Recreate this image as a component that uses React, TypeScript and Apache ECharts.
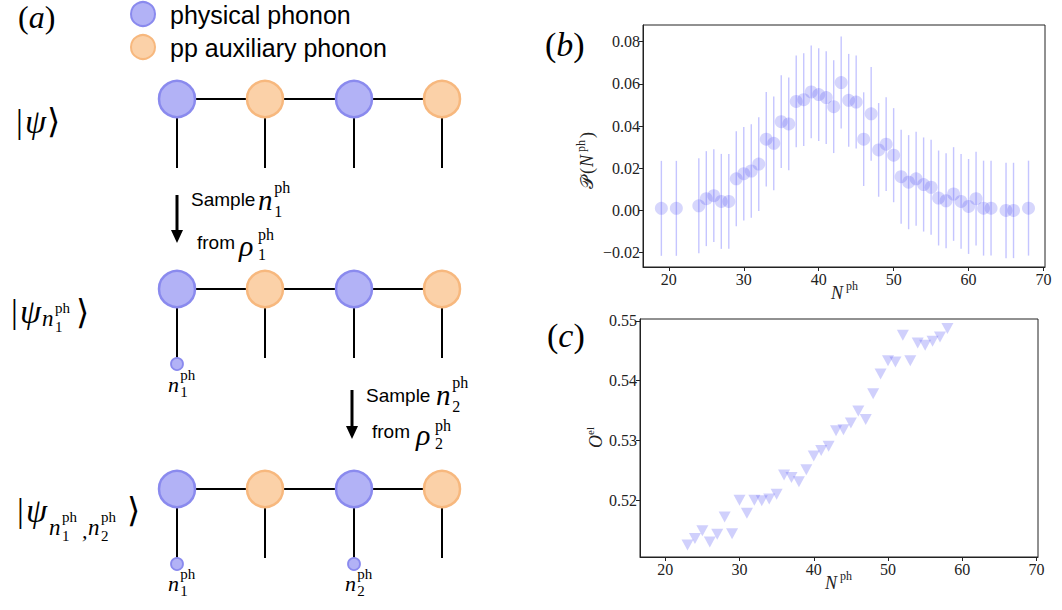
import React, { useEffect, useRef } from "react";
import * as echarts from "echarts";

// Panel (b): photon-number distribution with error bars
const nphB = [19, 21, 24, 25, 26, 27, 28, 29, 30, 31, 32, 33, 34, 35, 36, 37, 38, 39, 40, 41, 42, 43, 44, 45, 46, 47, 48, 49, 50, 51, 52, 53, 54, 55, 56, 57, 58, 59, 60, 61, 62, 63, 65, 66, 68];
const probB = [0.001, 0.001, 0.0022, 0.0056, 0.007, 0.0043, 0.0043, 0.015, 0.0174, 0.0187, 0.022, 0.0338, 0.0318, 0.0421, 0.041, 0.0517, 0.0525, 0.0562, 0.0549, 0.0535, 0.0492, 0.0606, 0.0522, 0.0514, 0.0338, 0.0458, 0.0287, 0.0314, 0.0262, 0.016, 0.0134, 0.015, 0.0123, 0.011, 0.0059, 0.0046, 0.0078, 0.0043, 0.0019, 0.0056, 0.0011, 0.0011, 0.0, 0.0, 0.0011];
const errB = [0.0225, 0.0225, 0.0225, 0.0225, 0.022, 0.0225, 0.0225, 0.0225, 0.0222, 0.0222, 0.0222, 0.0224, 0.0222, 0.022, 0.022, 0.0218, 0.022, 0.022, 0.022, 0.022, 0.022, 0.0218, 0.022, 0.022, 0.0222, 0.0222, 0.0222, 0.0222, 0.0223, 0.0223, 0.0223, 0.0223, 0.0223, 0.0225, 0.0225, 0.0225, 0.0222, 0.0225, 0.0225, 0.0222, 0.0225, 0.0225, 0.0226, 0.0226, 0.0225];

// Panel (c): electronic observable vs phonon number
const nphC = [23, 24, 25, 26, 27, 28, 29, 30, 31, 32, 33, 34, 35, 36, 37, 38, 39, 40, 41, 42, 43, 44, 45, 46, 47, 48, 49, 50, 51, 52, 53, 54, 55, 56, 57, 58];
const oelC = [0.5125, 0.5136, 0.5149, 0.513, 0.5143, 0.5172, 0.5144, 0.52, 0.5178, 0.52, 0.5199, 0.5202, 0.521, 0.5242, 0.5238, 0.5231, 0.5251, 0.5274, 0.5283, 0.529, 0.5316, 0.5318, 0.5329, 0.5349, 0.5335, 0.5378, 0.5411, 0.5433, 0.5431, 0.5476, 0.5433, 0.5463, 0.5459, 0.5466, 0.5473, 0.5487];

const xTicks = [20, 30, 40, 50, 60, 70];
const yTicksB = [-0.02, 0, 0.02, 0.04, 0.06, 0.08];
const yTicksC = [0.52, 0.53, 0.54, 0.55];

const SERIF = "Liberation Serif, DejaVu Serif, serif";
const SANS = "Liberation Sans, Arial, sans-serif";
const INK = "#222";

const BLUE_FILL = "#b2b2f6";
const BLUE_EDGE = "#8a8aee";
const ORANGE_FILL = "#fbd1a8";
const ORANGE_EDGE = "#f7b87e";

type TOpts = { italic?: boolean; font?: string; align?: string; fill?: string };
// single-token rich text keeps the font family on every run
function txt(text: string, x: number, y: number, size: number, o: TOpts = {}) {
  return {
    type: "text",
    x,
    y,
    silent: true,
    style: {
      text: `{t|${text}}`,
      align: o.align ?? "left",
      verticalAlign: "middle",
      rich: {
        t: {
          fontSize: size,
          fontFamily: o.font ?? SERIF,
          fontStyle: o.italic ? "italic" : "normal",
          fill: o.fill ?? "#000",
        },
      },
    },
  };
}

function seg(x1: number, y1: number, x2: number, y2: number, w = 2) {
  return { type: "line", silent: true, shape: { x1, y1, x2, y2 }, style: { stroke: "#000", lineWidth: w } };
}

function dot(cx: number, cy: number, r: number, fill: string, stroke: string, w = 2.5) {
  return { type: "circle", silent: true, shape: { cx, cy, r }, style: { fill, stroke, lineWidth: w } };
}

function arrow(x: number, y0: number, y1: number) {
  return [
    seg(x, y0, x, y1 - 10, 3),
    { type: "polygon", silent: true, shape: { points: [[x - 6, y1 - 13], [x + 6, y1 - 13], [x, y1]] }, style: { fill: "#000" } },
  ];
}

// n_k^ph label: italic n with stacked superscript "ph" and subscript k
function nLabel(x: number, y: number, k: string, size = 22, s = Math.round(size * 0.66)) {
  return [
    txt("n", x, y, size, { italic: true }),
    txt("ph", x + size * 0.56, y - size * 0.42, s),
    txt(k, x + size * 0.56, y + size * 0.38, s),
  ];
}

function buildDiagram() {
  const els: any[] = [];
  const cols = [177, 265, 354, 442];
  const kinds = [0, 1, 0, 1];
  const rows = [99, 289, 489];
  const legEnd = [168, 358, 558];

  // panel label and legend
  els.push({
    type: "text", x: 18, y: 17, silent: true,
    style: {
      text: "{u|(}{i|a}{u|)}", verticalAlign: "middle",
      rich: {
        u: { fontFamily: SERIF, fontSize: 32, fill: "#000" },
        i: { fontFamily: SERIF, fontSize: 32, fontStyle: "italic", fill: "#000" },
      },
    },
  });
  els.push(dot(143, 14, 12, BLUE_FILL, BLUE_EDGE, 2));
  els.push(dot(143, 47, 12, ORANGE_FILL, ORANGE_EDGE, 2));
  els.push(txt("physical phonon", 170, 15, 25, { font: SANS }));
  els.push(txt("pp auxiliary phonon", 170, 48, 25, { font: SANS }));

  // three tensor-network rows
  rows.forEach((y, r) => {
    els.push(seg(cols[0], y, cols[3], y, 2));
    cols.forEach((x) => els.push(seg(x, y, x, legEnd[r], 2)));
    cols.forEach((x, i) =>
      els.push(kinds[i] === 0 ? dot(x, y, 18, BLUE_FILL, BLUE_EDGE) : dot(x, y, 18, ORANGE_FILL, ORANGE_EDGE))
    );
  });

  // sampled physical legs
  els.push(dot(177, 364, 6, BLUE_FILL, BLUE_EDGE, 1.8));
  els.push(dot(177, 564, 6, BLUE_FILL, BLUE_EDGE, 1.8));
  els.push(dot(354, 564, 6, BLUE_FILL, BLUE_EDGE, 1.8));
  els.push(...nLabel(168, 384, "1"));
  els.push(...nLabel(168, 583, "1"));
  els.push(...nLabel(345, 583, "2"));

  // state labels on the left
  els.push(txt("|", 16, 121, 34));
  els.push(txt("ψ", 25, 121, 34, { italic: true }));
  els.push(txt("⟩", 47, 121, 34));

  els.push(txt("|", 11, 311, 34));
  els.push(txt("ψ", 20, 311, 34, { italic: true }));
  els.push(...nLabel(42, 318, "1", 23));
  els.push(txt("⟩", 76, 312, 34));

  els.push(txt("|", 17, 510, 34));
  els.push(txt("ψ", 26, 510, 34, { italic: true }));
  els.push(...nLabel(49, 527, "1", 23));
  els.push(txt(",", 82, 530, 22, { italic: true }));
  els.push(...nLabel(88, 527, "2", 23));
  els.push(txt("⟩", 127, 510, 34));

  // sampling steps
  els.push(...arrow(177, 195, 243));
  els.push(txt("Sample", 191, 199, 19, { font: SANS }));
  els.push(...nLabel(258, 200, "1", 29, 16));
  els.push(txt("from", 197, 242, 19, { font: SANS }));
  els.push(txt("ρ", 239, 245, 30, { italic: true }));
  els.push(txt("ph", 258, 234, 16));
  els.push(txt("1", 258, 254, 16));

  els.push(...arrow(352, 390, 439));
  els.push(txt("Sample", 366, 395, 19, { font: SANS }));
  els.push(...nLabel(436, 395, "2", 29, 16));
  els.push(txt("from", 372, 431, 19, { font: SANS }));
  els.push(txt("ρ", 416, 434, 30, { italic: true }));
  els.push(txt("ph", 435, 425, 16));
  els.push(txt("2", 435, 443, 16));

  return els;
}

function buildPanelText() {
  const els: any[] = [];
  const letter = (c: string, x: number, y: number) => ({
    type: "text", x, y, silent: true,
    style: {
      text: `{u|(}{i|${c}}{u|)}`, verticalAlign: "middle",
      rich: {
        u: { fontFamily: SERIF, fontSize: 34, fill: "#000" },
        i: { fontFamily: SERIF, fontSize: 34, fontStyle: "italic", fill: "#000" },
      },
    },
  });
  els.push(letter("b", 545, 44));
  els.push(letter("c", 547, 335));

  // x-axis titles
  els.push(txt("N", 831, 293, 18, { italic: true, fill: INK }));
  els.push(txt("ph", 846, 286, 12, { fill: INK }));
  els.push(txt("N", 825, 583, 18, { italic: true, fill: INK }));
  els.push(txt("ph", 840, 576, 12, { fill: INK }));

  // y-axis titles (rotated)
  els.push({
    type: "group", x: 587, y: 189, rotation: Math.PI / 2, silent: true,
    children: [
      txt("𝒫", 0, 0, 18, { fill: INK }),
      txt("(", 15, 0, 18, { fill: INK }),
      txt("N", 22, 0, 18, { italic: true, fill: INK }),
      txt("ph", 37, -6, 12, { fill: INK }),
      txt(")", 51, 0, 18, { fill: INK }),
    ],
  });
  els.push({
    type: "group", x: 596, y: 448, rotation: Math.PI / 2, silent: true,
    children: [
      txt("O", 0, 0, 18, { italic: true, fill: INK }),
      txt("el", 13, -6, 11, { fill: INK }),
    ],
  });
  return els;
}

function axisCommon(grid: number, margin: number) {
  return {
    gridIndex: grid,
    type: "value" as const,
    splitLine: { show: false },
    axisLine: { show: true, onZero: false, lineStyle: { color: INK, width: 1 } },
    axisTick: { show: true, inside: false, length: 4, lineStyle: { color: INK, width: 1 } },
    axisLabel: {
      margin,
      rich: { t: { fontFamily: SERIF, fontSize: 16, color: INK } },
    },
  };
}

export default function App() {
  const ref = useRef<HTMLDivElement>(null);

  useEffect(() => {
    if (!ref.current) return;
    const chart = echarts.init(ref.current, null, { renderer: "svg" });

    const errData = nphB.map((n, i) => [n, probB[i] - errB[i], probB[i] + errB[i]]);
    const ptsB = nphB.map((n, i) => [n, probB[i]]);
    const ptsC = nphC.map((n, i) => [n, oelC[i]]);
    const fmtX = (v: number) => `{t|${v}}`;
    const fmtB = (v: number) => `{t|${v < 0 ? "−" + Math.abs(v).toFixed(2) : v.toFixed(2)}}`;
    const fmtC = (v: number) => `{t|${v.toFixed(2)}}`;

    const xa = (grid: number, min: number) => {
      const c = axisCommon(grid, 4);
      return {
        ...c, min, max: 70.2,
        axisTick: { ...c.axisTick, customValues: xTicks },
        axisLabel: { ...c.axisLabel, customValues: xTicks, formatter: fmtX },
      };
    };
    const ya = (grid: number, min: number, max: number, ticks: number[], fmt: (v: number) => string) => {
      const c = axisCommon(grid, 3);
      return {
        ...c, min, max,
        axisTick: { ...c.axisTick, customValues: ticks },
        axisLabel: { ...c.axisLabel, customValues: ticks, formatter: fmt },
      };
    };

    chart.setOption({
      animation: false,
      backgroundColor: "#fff",
      grid: [
        { left: 643, top: 25, width: 402, height: 242, show: true, borderColor: INK, borderWidth: 1, backgroundColor: "transparent" },
        { left: 640, top: 319, width: 398, height: 238, show: true, borderColor: INK, borderWidth: 1, backgroundColor: "transparent" },
      ],
      xAxis: [xa(0, 16.55), xa(1, 16.6)],
      yAxis: [
        ya(0, -0.0268, 0.0879, yTicksB, fmtB),
        ya(1, 0.5105, 0.5503, yTicksC, fmtC),
      ],
      series: [
        {
          type: "custom",
          xAxisIndex: 0,
          yAxisIndex: 0,
          data: errData,
          encode: { x: 0, y: [1, 2] },
          z: 1,
          renderItem: (_p: any, api: any) => {
            const x = api.value(0);
            const a = api.coord([x, api.value(1)]);
            const b = api.coord([x, api.value(2)]);
            return {
              type: "line",
              shape: { x1: a[0], y1: a[1], x2: b[0], y2: b[1] },
              style: { stroke: "rgba(90, 90, 255, 0.35)", lineWidth: 1.4 },
            };
          },
        },
        {
          type: "scatter",
          xAxisIndex: 0,
          yAxisIndex: 0,
          data: ptsB,
          symbol: "circle",
          symbolSize: 13,
          z: 2,
          itemStyle: { color: "rgba(70, 70, 240, 0.28)" },
        },
        {
          type: "scatter",
          xAxisIndex: 1,
          yAxisIndex: 1,
          data: ptsC,
          symbol: "triangle",
          symbolRotate: 180,
          symbolSize: [12, 11],
          itemStyle: { color: "rgba(70, 70, 245, 0.32)" },
        },
      ],
      graphic: [...buildDiagram(), ...buildPanelText()],
    });

    return () => chart.dispose();
  }, []);

  return (
    <div
      ref={ref}
      style={{ position: "fixed", left: 0, top: 0, width: 1062, height: 610, background: "#fff" }}
    />
  );
}
